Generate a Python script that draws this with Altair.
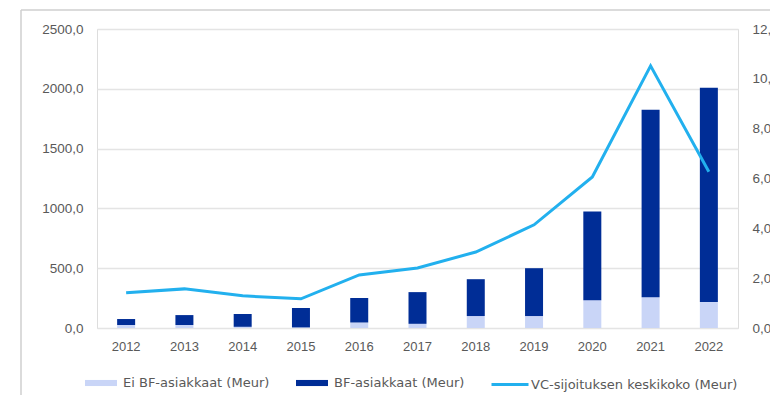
import altair as alt
import pandas as pd

years = ["2012", "2013", "2014", "2015", "2016", "2017", "2018", "2019", "2020", "2021", "2022"]
ei_bf = [25, 25, 10, 5, 45, 35, 100, 100, 233, 258, 217]
bf_total = [75, 108, 117, 167, 250, 300, 408, 500, 975, 1825, 2008]
bf = [t - e for t, e in zip(bf_total, ei_bf)]
vc_avg = [1.41, 1.57, 1.29, 1.17, 2.13, 2.41, 3.05, 4.14, 6.06, 10.52, 6.27]

S_EI = "Ei BF-asiakkaat (Meur)"
S_BF = "BF-asiakkaat (Meur)"
S_VC = "VC-sijoituksen keskikoko (Meur)"

bars_df = pd.DataFrame(
    [{"year": y, "series": S_EI, "value": v, "ord": 0} for y, v in zip(years, ei_bf)]
    + [{"year": y, "series": S_BF, "value": v, "ord": 1} for y, v in zip(years, bf)]
)
line_df = pd.DataFrame({"year": years, "vc": vc_avg, "series": [S_VC] * len(years)})

FONT = "DejaVu Sans"
LABEL_COLOR = "#595959"
W, H = 641, 299

xenc = alt.X(
    "year:N",
    sort=years,
    scale=alt.Scale(paddingInner=0, paddingOuter=0),
    axis=alt.Axis(title=None, labelAngle=0, domain=False, ticks=False, labelPadding=12,
                  labelFontSize=13, labelColor=LABEL_COLOR, grid=False),
)

bars = alt.Chart(bars_df).mark_bar(size=18).encode(
    x=xenc,
    y=alt.Y(
        "value:Q",
        stack="zero",
        scale=alt.Scale(domain=[0, 2500]),
        axis=alt.Axis(title=None, values=[0, 500, 1000, 1500, 2000, 2500],
                      labelExpr="replace(format(datum.value, '.1f'), '.', ',')",
                      domain=False, ticks=False, labelPadding=14, labelFontSize=13.5,
                      labelColor=LABEL_COLOR, grid=True, gridColor="#e4e4e4", gridWidth=1.5),
    ),
    color=alt.Color(
        "series:N",
        scale=alt.Scale(domain=[S_EI, S_BF], range=["#c9d5f7", "#002d96"]),
        legend=alt.Legend(
            title=None, orient="none", legendX=-12, legendY=338, direction="horizontal",
            symbolType="M-1,-0.19L1,-0.19L1,0.19L-1,0.19Z", symbolSize=1024,
            symbolStrokeWidth=0, labelFont=FONT, labelFontSize=13, labelColor=LABEL_COLOR,
            labelOffset=6, columnPadding=26, padding=0, labelLimit=300,
        ),
    ),
    order=alt.Order("ord:Q"),
)

line = alt.Chart(line_df).mark_line(strokeWidth=3, color="#22b0ee").encode(
    x=xenc,
    y=alt.Y(
        "vc:Q",
        scale=alt.Scale(domain=[0, 12]),
        axis=alt.Axis(title=None, orient="right", values=[0, 2, 4, 6, 8, 10, 12],
                      labelExpr="replace(format(datum.value, '.1f'), '.', ',')",
                      domain=False, ticks=False, labelPadding=14, labelFontSize=13.5,
                      labelColor=LABEL_COLOR, grid=False),
    ),
    stroke=alt.Stroke(
        "series:N",
        scale=alt.Scale(domain=[S_VC], range=["#22b0ee"]),
        legend=alt.Legend(
            title=None, orient="none", legendX=393, legendY=335.5, direction="horizontal",
            symbolType="stroke", symbolSize=1369, symbolStrokeWidth=3,
            labelFont=FONT, labelFontSize=13, labelColor=LABEL_COLOR,
            labelOffset=1, padding=0, labelLimit=300,
        ),
    ),
)

frame_v = alt.Chart(pd.DataFrame({"k": [0]})).mark_rule(color="#cfcfcf", strokeWidth=1.5).encode(
    x=alt.value(-76), y=alt.value(-19), y2=alt.value(H + 80)
)
frame_h = alt.Chart(pd.DataFrame({"k": [0]})).mark_rule(color="#cfcfcf", strokeWidth=1.5).encode(
    x=alt.value(-76), x2=alt.value(W + 60), y=alt.value(-19)
)

chart = (
    alt.layer(frame_v, frame_h, bars, line)
    .resolve_scale(y="independent", color="independent")
    .properties(width=W, height=H, autosize=alt.AutoSizeParams(type="none"),
                padding={"left": 89, "top": 21, "right": 32, "bottom": 67})
    .configure_view(stroke=None)
    .configure_axis(labelFont=FONT)
    .configure(background="white")
)

chart.save("out.html", embed_options={"renderer": "svg", "actions": False})
